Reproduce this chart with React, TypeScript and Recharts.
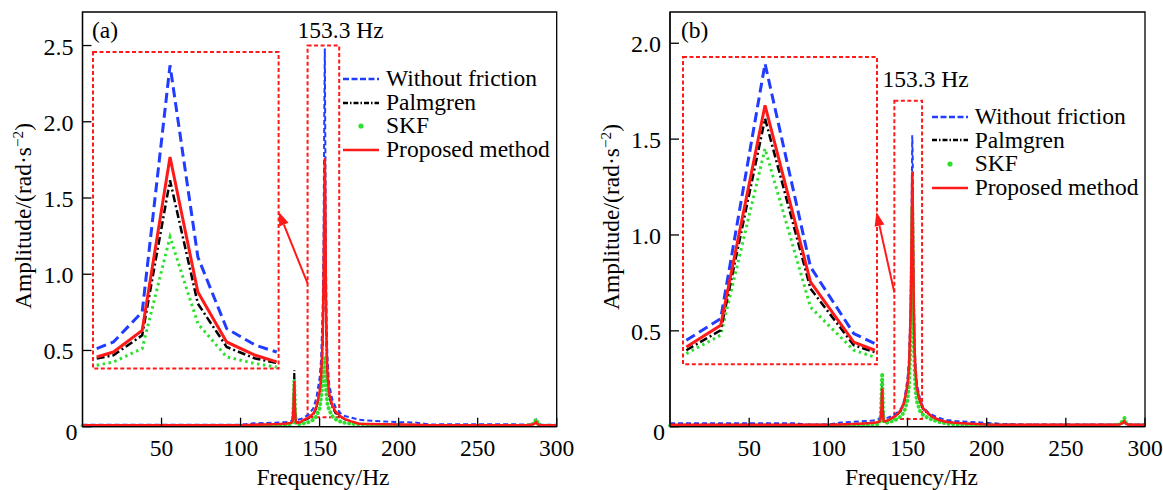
import React from 'react';
import { LineChart, Line, XAxis, YAxis, ReferenceArea, ReferenceLine } from 'recharts';

const FONT = '"Liberation Serif", "Times New Roman", Times, serif';
const BLUE = '#1f3cff';
const BLACK = '#000000';
const GREEN = '#2ee02e';
const RED = '#ff1a1a';

const legendLabels = ['Without friction', 'Palmgren', 'SKF', 'Proposed method'];
const xTicks = [50, 100, 150, 200, 250, 300];
const yTicksA = [0, 0.5, 1.0, 1.5, 2.0, 2.5];
const yTicksB = [0, 0.5, 1.0, 1.5, 2.0];
const peakLabel = '153.3 Hz';

// shared frequency grid (Hz)
const freq = [0, 10, 20, 30, 40, 50, 60, 70, 80, 85,
  90, 100, 108, 115, 120, 125, 128, 130, 132, 133,
  133.5, 134, 134.5, 135, 136, 138, 140, 143, 146, 148,
  150, 151, 152, 152.5, 153, 153.3, 153.6, 154, 154.5, 155,
  156, 158, 160, 163, 166, 170, 175, 180, 190, 200,
  210, 220, 240, 260, 280, 284, 286, 287, 288, 290,
  295, 300];

// ---- panel (a)
const noFrictionA = [0.012, 0.012, 0.012, 0.012, 0.012, 0.012, 0.012, 0.012, 0.012, 0.012,
  0.012, 0.013, 0.022, 0.024, 0.026, 0.028, 0.03, 0.032, 0.036, 0.05,
  0.12, 0.32, 0.1, 0.05, 0.045, 0.05, 0.06, 0.08, 0.12, 0.19,
  0.32, 0.45, 0.8, 1.2, 2.1, 2.48, 1.9, 1.1, 0.65, 0.45,
  0.28, 0.18, 0.13, 0.09, 0.07, 0.06, 0.045, 0.04, 0.035, 0.03,
  0.028, 0.015, 0.016, 0.016, 0.015, 0.015, 0.03, 0.045, 0.02, 0.014,
  0.012, 0.012];
const palmgrenA = [0.01, 0.01, 0.01, 0.01, 0.01, 0.01, 0.01, 0.01, 0.01, 0.01,
  0.01, 0.01, 0.012, 0.014, 0.016, 0.018, 0.02, 0.022, 0.025, 0.04,
  0.15, 0.37, 0.12, 0.035, 0.028, 0.03, 0.04, 0.055, 0.08, 0.12,
  0.21, 0.3, 0.55, 0.85, 1.35, 1.6, 1.3, 0.75, 0.45, 0.32,
  0.2, 0.13, 0.09, 0.065, 0.048, 0.033, 0.02, 0.017, 0.015, 0.014,
  0.012, 0.01, 0.01, 0.01, 0.01, 0.012, 0.025, 0.035, 0.015, 0.01,
  0.01, 0.01];
const skfA = [0.004, 0.004, 0.004, 0.004, 0.004, 0.004, 0.004, 0.004, 0.004, 0.004,
  0.004, 0.004, 0.005, 0.006, 0.007, 0.008, 0.01, 0.012, 0.015, 0.03,
  0.14, 0.3, 0.1, 0.02, 0.015, 0.018, 0.022, 0.03, 0.045, 0.07,
  0.12, 0.2, 0.3, 0.38, 0.45, 0.43, 0.35, 0.25, 0.2, 0.15,
  0.11, 0.07, 0.05, 0.035, 0.025, 0.02, 0.015, 0.012, 0.008, 0.007,
  0.006, 0.005, 0.005, 0.005, 0.006, 0.01, 0.03, 0.05, 0.02, 0.006,
  0.005, 0.005];
const proposedA = [0.01, 0.01, 0.01, 0.01, 0.01, 0.01, 0.01, 0.01, 0.01, 0.01,
  0.01, 0.01, 0.012, 0.014, 0.016, 0.018, 0.02, 0.022, 0.025, 0.04,
  0.12, 0.3, 0.08, 0.03, 0.025, 0.03, 0.045, 0.06, 0.085, 0.13,
  0.23, 0.33, 0.6, 0.95, 1.5, 1.76, 1.5, 0.85, 0.5, 0.35,
  0.22, 0.14, 0.1, 0.07, 0.05, 0.035, 0.02, 0.018, 0.016, 0.015,
  0.012, 0.01, 0.01, 0.01, 0.01, 0.012, 0.02, 0.03, 0.015, 0.01,
  0.01, 0.01];

// ---- panel (b)
const noFrictionB = [0.018, 0.018, 0.018, 0.018, 0.018, 0.018, 0.018, 0.018, 0.018, 0.012,
  0.012, 0.012, 0.022, 0.025, 0.028, 0.03, 0.032, 0.035, 0.04, 0.06,
  0.12, 0.22, 0.1, 0.05, 0.045, 0.048, 0.055, 0.07, 0.095, 0.14,
  0.25, 0.36, 0.65, 1.0, 1.52, 1.4, 1.0, 0.7, 0.45, 0.33,
  0.22, 0.14, 0.1, 0.075, 0.06, 0.045, 0.035, 0.03, 0.025, 0.02,
  0.015, 0.012, 0.012, 0.012, 0.012, 0.012, 0.02, 0.03, 0.015, 0.012,
  0.012, 0.012];
const palmgrenB = [0.01, 0.01, 0.01, 0.01, 0.01, 0.01, 0.01, 0.01, 0.01, 0.01,
  0.01, 0.01, 0.012, 0.014, 0.016, 0.018, 0.02, 0.022, 0.025, 0.045,
  0.1, 0.25, 0.08, 0.03, 0.028, 0.033, 0.043, 0.058, 0.085, 0.125,
  0.21, 0.3, 0.56, 0.88, 1.25, 1.12, 0.85, 0.56, 0.38, 0.28,
  0.19, 0.125, 0.09, 0.067, 0.048, 0.034, 0.024, 0.019, 0.015, 0.012,
  0.01, 0.01, 0.01, 0.01, 0.01, 0.012, 0.02, 0.03, 0.014, 0.01,
  0.01, 0.01];
const skfB = [0.004, 0.004, 0.004, 0.004, 0.004, 0.004, 0.004, 0.004, 0.004, 0.004,
  0.004, 0.004, 0.005, 0.006, 0.007, 0.008, 0.01, 0.012, 0.015, 0.04,
  0.14, 0.28, 0.1, 0.025, 0.02, 0.022, 0.028, 0.038, 0.055, 0.08,
  0.14, 0.22, 0.45, 0.7, 1.15, 1.0, 0.7, 0.45, 0.3, 0.2,
  0.13, 0.08, 0.06, 0.045, 0.035, 0.025, 0.015, 0.012, 0.008, 0.007,
  0.006, 0.005, 0.005, 0.005, 0.006, 0.012, 0.03, 0.045, 0.02, 0.006,
  0.005, 0.005];
const proposedB = [0.01, 0.01, 0.01, 0.01, 0.01, 0.01, 0.01, 0.01, 0.01, 0.01,
  0.01, 0.01, 0.012, 0.014, 0.016, 0.018, 0.02, 0.022, 0.025, 0.04,
  0.08, 0.2, 0.06, 0.03, 0.028, 0.035, 0.045, 0.06, 0.09, 0.13,
  0.22, 0.32, 0.6, 0.95, 1.33, 1.2, 0.9, 0.6, 0.4, 0.3,
  0.2, 0.13, 0.095, 0.07, 0.05, 0.035, 0.025, 0.02, 0.016, 0.012,
  0.01, 0.01, 0.01, 0.01, 0.01, 0.012, 0.02, 0.028, 0.014, 0.01,
  0.01, 0.01];

// ---- zoomed insets
const insetFreqA = [142.8, 144.6, 147.7, 150.7, 153.7, 156.8, 159.9, 162.2];
const insetNoFrictionA = [0.216, 0.267, 0.497, 2.388, 0.918, 0.370, 0.242, 0.190];
const insetPalmgrenA = [0.140, 0.165, 0.318, 1.506, 0.561, 0.229, 0.140, 0.106];
const insetSkfA = [0.088, 0.114, 0.216, 1.072, 0.408, 0.152, 0.101, 0.075];
const insetProposedA = [0.152, 0.190, 0.356, 1.685, 0.650, 0.267, 0.165, 0.114];

const insetFreqB = [142.0, 145.1, 149.1, 153.2, 157.1, 159.0];
const insetNoFrictionB = [0.170, 0.287, 1.664, 0.566, 0.206, 0.152];
const insetPalmgrenB = [0.116, 0.224, 1.367, 0.449, 0.143, 0.106];
const insetSkfB = [0.098, 0.197, 1.205, 0.349, 0.116, 0.079];
const insetProposedB = [0.133, 0.251, 1.439, 0.485, 0.160, 0.116];

const rowsA = freq.map((f, i) => ({ f, nf: noFrictionA[i], pg: palmgrenA[i], skf: skfA[i], pm: proposedA[i] }));
const rowsB = freq.map((f, i) => ({ f, nf: noFrictionB[i], pg: palmgrenB[i], skf: skfB[i], pm: proposedB[i] }));
const insetRowsA = insetFreqA.map((f, i) => ({ f, nf: insetNoFrictionA[i], pg: insetPalmgrenA[i], skf: insetSkfA[i], pm: insetProposedA[i] }));
const insetRowsB = insetFreqB.map((f, i) => ({ f, nf: insetNoFrictionB[i], pg: insetPalmgrenB[i], skf: insetSkfB[i], pm: insetProposedB[i] }));

const FS = 23.5;
const Y_AXIS_W = 60;
const X_AXIS_H = 40;

const XTick = (p: any) => {
  const { x, y, payload } = p;
  return (
    <g>
      <line x1={x} y1={y} x2={x} y2={y - 9} stroke="#000" strokeWidth={1.3} />
      <text x={x} y={y + 29} textAnchor="middle" fontFamily={FONT} fontSize={FS} fill="#000">{payload.value}</text>
    </g>
  );
};

const YTick = (p: any) => {
  const { x, y, payload } = p;
  const v = payload.value;
  const zero = v === 0;
  return (
    <g>
      <line x1={x} y1={y} x2={x + 9} y2={y} stroke="#000" strokeWidth={1.3} />
      <text x={zero ? x - 5 : x - 9} y={zero ? y + 13 : y + 9} textAnchor="end" fontFamily={FONT} fontSize={24} fill="#000">
        {zero ? '0' : v.toFixed(1)}
      </text>
    </g>
  );
};

const ArrowShape = (p: any) => {
  const { x1, y1, x2, y2 } = p;
  const ang = Math.atan2(y2 - y1, x2 - x1);
  const L = 14;
  const W = 5;
  const bx = x2 - L * Math.cos(ang);
  const by = y2 - L * Math.sin(ang);
  const px = -Math.sin(ang) * W;
  const py = Math.cos(ang) * W;
  return (
    <g>
      <line x1={x1} y1={y1} x2={bx} y2={by} stroke={RED} strokeWidth={2} />
      <polygon points={`${x2},${y2} ${bx + px},${by + py} ${bx - px},${by - py}`} fill={RED} />
    </g>
  );
};

type PanelProps = {
  left: number; width: number; plotLeft: number; plotRight: number;
  yMax: number; yTicks: number[]; rows: any[];
  box: [number, number, number, number];
  arrow: [number, number, number, number];
};

function Panel({ left, width, plotLeft, plotRight, yMax, yTicks, rows, box, arrow }: PanelProps) {
  const plotTop = 12;
  const plotBottom = 426.7;
  return (
    <div style={{ position: 'absolute', left, top: 0, width, height: 490 }}>
      <LineChart width={width} height={490} data={rows}
        margin={{ top: plotTop, left: plotLeft - Y_AXIS_W, right: width - plotRight, bottom: 490 - plotBottom - X_AXIS_H }}>
        <XAxis dataKey="f" type="number" domain={[0, 300]} ticks={xTicks} interval={0} height={X_AXIS_H}
          tickSize={0} tickMargin={0} tickLine={false} tick={XTick} axisLine={{ stroke: '#000', strokeWidth: 1.3 }} />
        <YAxis type="number" domain={[0, yMax]} ticks={yTicks} interval={0} width={Y_AXIS_W} allowDataOverflow
          tickSize={0} tickMargin={0} tickLine={false} tick={YTick} axisLine={{ stroke: '#000', strokeWidth: 1.3 }} />
        <ReferenceArea x1={0} x2={300} y1={0} y2={yMax} fill="none" fillOpacity={0} stroke="#000" strokeWidth={1.3} ifOverflow="visible" />
        <ReferenceArea x1={box[0]} x2={box[1]} y1={box[2]} y2={box[3]} fill="none" fillOpacity={0} stroke={RED} strokeWidth={2} strokeDasharray="4 2.5" ifOverflow="visible" />
        <ReferenceLine segment={[{ x: arrow[0], y: arrow[1] }, { x: arrow[2], y: arrow[3] }]} shape={ArrowShape} ifOverflow="visible" />
        <Line dataKey="nf" type="linear" stroke={BLUE} strokeWidth={2} strokeDasharray="5 3" dot={false} isAnimationActive={false} />
        <Line dataKey="pg" type="linear" stroke={BLACK} strokeWidth={2} strokeDasharray="6 2 1.5 2" dot={false} isAnimationActive={false} />
        <Line dataKey="skf" type="linear" stroke={GREEN} strokeWidth={4} strokeDasharray="0.1 4.5" strokeLinecap="round" dot={false} isAnimationActive={false} />
        <Line dataKey="pm" type="linear" stroke={RED} strokeWidth={2.5} dot={false} isAnimationActive={false} />
      </LineChart>
    </div>
  );
}

type InsetProps = { left: number; top: number; w: number; h: number; rows: any[]; xd: [number, number]; yd: [number, number] };

function Inset({ left, top, w, h, rows, xd, yd }: InsetProps) {
  const m = 3;
  return (
    <div style={{ position: 'absolute', left: left - m, top: top - m }}>
      <LineChart width={w + 2 * m} height={h + 2 * m} data={rows} margin={{ top: m, left: m, right: m, bottom: m }}>
        <XAxis dataKey="f" type="number" domain={xd} hide />
        <YAxis type="number" domain={yd} hide />
        <ReferenceArea x1={xd[0]} x2={xd[1]} y1={yd[0]} y2={yd[1]} fill="none" fillOpacity={0} stroke={RED} strokeWidth={2} strokeDasharray="4 2.5" ifOverflow="visible" />
        <Line dataKey="nf" type="linear" stroke={BLUE} strokeWidth={3} strokeDasharray="10 5" dot={false} isAnimationActive={false} />
        <Line dataKey="skf" type="linear" stroke={GREEN} strokeWidth={3} strokeDasharray="2.5 3.5" dot={false} isAnimationActive={false} />
        <Line dataKey="pg" type="linear" stroke={BLACK} strokeWidth={2.5} strokeDasharray="8 3 2 3" dot={false} isAnimationActive={false} />
        <Line dataKey="pm" type="linear" stroke={RED} strokeWidth={3} dot={false} isAnimationActive={false} />
      </LineChart>
    </div>
  );
}

function LegendMarker({ i }: { i: number }) {
  return (
    <svg width={36} height={10} style={{ marginRight: 7, flex: 'none' }}>
      {i === 0 && <line x1={0} y1={5} x2={36} y2={5} stroke={BLUE} strokeWidth={2.5} strokeDasharray="6 2.5" />}
      {i === 1 && <line x1={0} y1={5} x2={36} y2={5} stroke={BLACK} strokeWidth={2.5} strokeDasharray="5 2 1.5 2" />}
      {i === 2 && <circle cx={18} cy={5} r={2.6} fill={GREEN} />}
      {i === 3 && <line x1={0} y1={5} x2={36} y2={5} stroke={RED} strokeWidth={2.5} />}
    </svg>
  );
}

function LegendBox({ left, top }: { left: number; top: number }) {
  return (
    <div style={{ position: 'absolute', left, top, fontFamily: FONT, fontSize: FS, color: '#000' }}>
      {legendLabels.map((lab, i) => (
        <div key={lab} style={{ height: 23.7, lineHeight: '23.7px', display: 'flex', alignItems: 'center', whiteSpace: 'nowrap' }}>
          <LegendMarker i={i} />
          <span>{lab}</span>
        </div>
      ))}
    </div>
  );
}

const txt: React.CSSProperties = { position: 'absolute', fontFamily: FONT, fontSize: FS, lineHeight: 1, whiteSpace: 'nowrap', color: '#000' };

function YLabel({ cx, cy }: { cx: number; cy: number }) {
  return (
    <div style={{ ...txt, left: cx, top: cy, transform: 'translate(-50%, -50%) rotate(-90deg)' }}>
      Amplitude/(rad·s<span style={{ fontSize: '0.65em', position: 'relative', top: '-0.55em' }}>−2</span>)
    </div>
  );
}

export default function App() {
  return (
    <div style={{ position: 'absolute', left: 0, top: 0, width: 1163, height: 490, overflow: 'hidden', background: '#fff' }}>
      <Panel left={0} width={580} plotLeft={82.5} plotRight={556.7} yMax={2.72} yTicks={yTicksA} rows={rowsA}
        box={[142.4, 162.4, 0.062, 2.5]} arrow={[142.4, 0.94, 124.1, 1.41]} />
      <Panel left={580} width={583} plotLeft={90} plotRight={565} yMax={2.163} yTicks={yTicksB} rows={rowsB}
        box={[141.7, 159.2, 0.04, 1.70]} arrow={[141.7, 0.70, 130.4, 1.12]} />

      <Inset left={92.7} top={51.7} w={185.6} h={316.6} rows={insetRowsA} xd={[142.4, 162.4]} yd={[0.063, 2.49]} />
      <Inset left={682.7} top={56.7} w={194} h={307.3} rows={insetRowsB} xd={[141.7, 159.2]} yd={[0.04, 1.70]} />

      <LegendBox left={343} top={67} />
      <LegendBox left={931.7} top={104.9} />

      <div style={{ ...txt, left: 92, top: 19 }}>(a)</div>
      <div style={{ ...txt, left: 681, top: 19 }}>(b)</div>
      <div style={{ ...txt, left: 297.5, top: 19.1 }}>{peakLabel}</div>
      <div style={{ ...txt, left: 882.5, top: 68.3 }}>{peakLabel}</div>

      <YLabel cx={24} cy={216} />
      <YLabel cx={611.7} cy={216.7} />

      <div style={{ ...txt, left: 323, top: 466, transform: 'translateX(-50%)' }}>Frequency/Hz</div>
      <div style={{ ...txt, left: 911.5, top: 466, transform: 'translateX(-50%)' }}>Frequency/Hz</div>
    </div>
  );
}
